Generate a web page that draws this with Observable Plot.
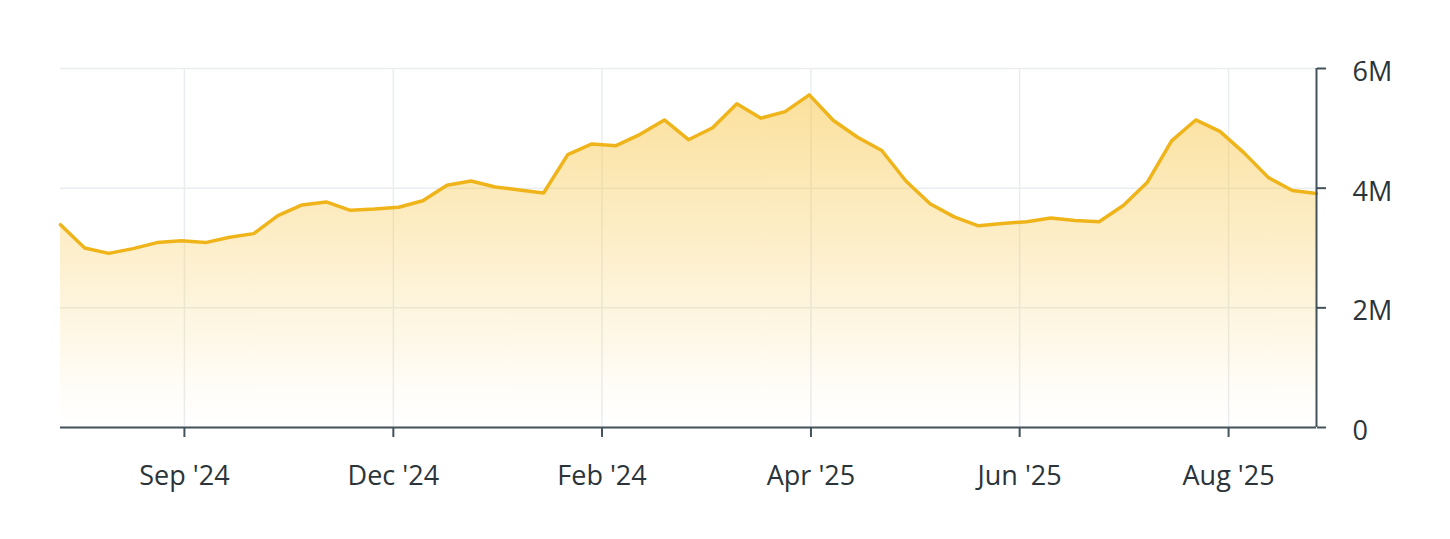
<!DOCTYPE html>
<html>
<head>
<meta charset="utf-8">
<script src="https://cdn.jsdelivr.net/npm/d3@7"></script>
<script src="https://cdn.jsdelivr.net/npm/@observablehq/plot@0.6"></script>
<style>
  html, body { margin: 0; padding: 0; background: #ffffff; }
  #chart { width: 1450px; height: 539px; }
</style>
</head>
<body>
<div id="chart"></div>
<script>
// Weekly values, in millions (53 points)
const values = [
  3.39, 3.00, 2.91, 2.99, 3.09, 3.12, 3.09, 3.18, 3.24, 3.54,
  3.72, 3.77, 3.63, 3.65, 3.68, 3.79, 4.05, 4.12, 4.02, 3.97,
  3.92, 4.56, 4.74, 4.71, 4.90, 5.14, 4.81, 5.01, 5.41, 5.17,
  5.28, 5.56, 5.13, 4.85, 4.63, 4.12, 3.74, 3.52, 3.37, 3.41,
  3.44, 3.50, 3.46, 3.44, 3.71, 4.10, 4.79, 5.14, 4.95, 4.59,
  4.18, 3.96, 3.91
];
// x-axis ticks (positions in point-index units) and their labels
const xTickPositions = [5.13, 13.78, 22.42, 31.07, 39.71, 48.36];
const xTickLabels = ["Sep '24", "Dec '24", "Feb '24", "Apr '25", "Jun '25", "Aug '25"];
// y-axis ticks
const yTicks = [0, 2e6, 4e6, 6e6];
const yTickLabels = ["0", "2M", "4M", "6M"];

const data = values.map((v, i) => ({i, v: v * 1e6}));

const axisColor = "#44525b";
const textColor = "#2b3439";
const gridColor = "#eaedef";

const gradientDefs = () => {
  const ns = "http://www.w3.org/2000/svg";
  const defs = document.createElementNS(ns, "defs");
  const lg = document.createElementNS(ns, "linearGradient");
  lg.setAttribute("id", "areaGrad");
  lg.setAttribute("x1", "0"); lg.setAttribute("y1", "0");
  lg.setAttribute("x2", "0"); lg.setAttribute("y2", "1");
  [[0, 0.5], [0.45, 0.27], [0.9, 0.03], [1, 0.0]].forEach(([o, a]) => {
    const s = document.createElementNS(ns, "stop");
    s.setAttribute("offset", o);
    s.setAttribute("stop-color", "#f7c23a");
    s.setAttribute("stop-opacity", a);
    lg.appendChild(s);
  });
  defs.appendChild(lg);
  return defs;
};

const chart = Plot.plot({
  width: 1450,
  height: 539,
  marginTop: 68,
  marginBottom: 112,
  marginLeft: 60,
  marginRight: 134,
  style: {fontFamily: "'Open Sans', sans-serif", fontSize: "27px", color: textColor, background: "#ffffff"},
  x: {type: "linear", domain: [0, values.length - 1]},
  y: {domain: [0, 6e6]},
  marks: [
    gradientDefs,
    Plot.gridY(yTicks, {stroke: gridColor, strokeOpacity: 1, strokeWidth: 1.5}),
    Plot.gridX(xTickPositions, {stroke: gridColor, strokeOpacity: 1, strokeWidth: 1.5}),
    Plot.areaY(data, {x: "i", y: "v", fill: "url(#areaGrad)"}),
    Plot.line(data, {x: "i", y: "v", stroke: "#f0b41b", strokeWidth: 3.5, strokeLinejoin: "round"}),
    Plot.ruleY([0], {stroke: axisColor, strokeWidth: 2}),
    Plot.ruleX([values.length - 1], {stroke: axisColor, strokeWidth: 2}),
    Plot.axisX(xTickPositions, {
      anchor: "bottom", tickSize: 10, tickPadding: 28, stroke: axisColor, strokeWidth: 2,
      tickFormat: (d, i) => xTickLabels[i], fill: textColor, fontSize: 27, label: null
    }),
    // y tick marks only
    Plot.axisY(yTicks, {
      anchor: "right", tickSize: 9, stroke: axisColor, strokeWidth: 2,
      tickFormat: () => "", label: null
    }),
    // y tick labels, nudged slightly down
    Plot.axisY(yTicks, {
      anchor: "right", tickSize: 0, tickPadding: 36,
      tickFormat: (d, i) => yTickLabels[i], fill: textColor, fontSize: 27, dy: 4, label: null
    })
  ]
});
document.getElementById("chart").appendChild(chart);
</script>
</body>
</html>
